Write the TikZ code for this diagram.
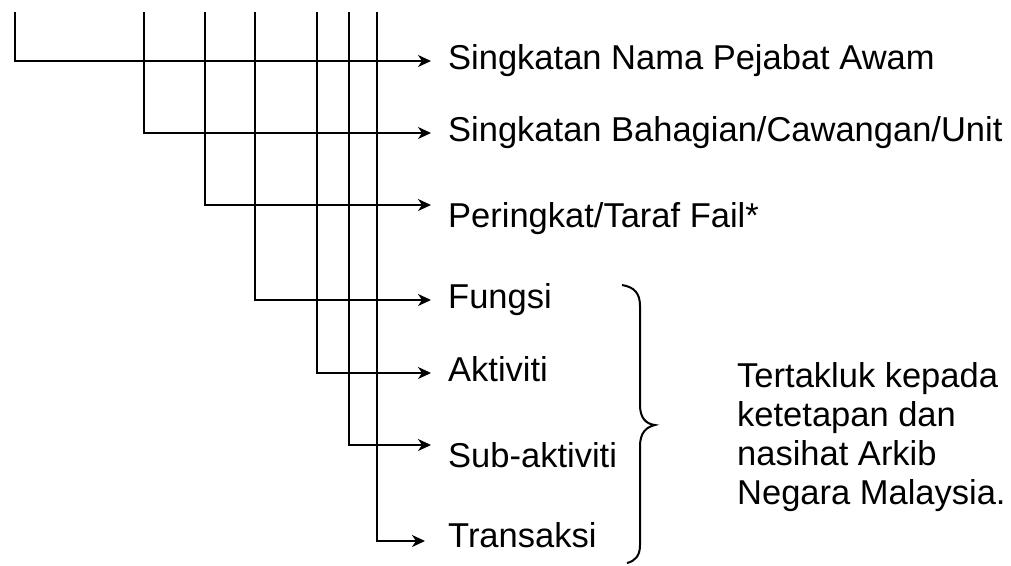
\documentclass[tikz,border=0pt]{standalone}
\usepackage{fontspec}
\setmainfont{Liberation Sans}
\usetikzlibrary{arrows.meta}

\begin{document}
\begin{tikzpicture}[
        x=1pt, y=-1pt,
        >={Stealth[length=13pt, width=12pt, inset=4pt]},
        % Styles
        entry/.style={anchor=base west, inner sep=0pt, font=\fontsize{34.5}{39.5}\selectfont},
        note/.style={anchor=base west, inner sep=0pt, align=left, font=\fontsize{34.5}{39}\selectfont},
        arrow/.style={->, line width=2.2pt, black},
        bracket/.style={line width=2pt, black},
    ]
    \useasboundingbox (0,0) rectangle (1011,565);

    % === LABELS ===
    \node[entry] (pejabat) at (448,69) {Singkatan Nama Pejabat Awam};
    \node[entry] (bahagian) at (448,141) {Singkatan Bahagian/Cawangan/Unit};
    \node[entry] (taraf) at (448,227) {Peringkat/Taraf Fail*};
    \node[entry] (fungsi) at (448,308) {Fungsi};
    \node[entry] (aktiviti) at (448,381) {Aktiviti};
    \node[entry] (subakt) at (448,467) {Sub-aktiviti};
    \node[entry] (transaksi) at (448,547) {Transaksi};

    % === NOTE (placed by its last baseline) ===
    \node[note] (nota) at (737,504) {Tertakluk kepada\\ketetapan dan\\nasihat Arkib\\Negara Malaysia.};

    % === LINE TOPS AND ARROW TIPS ===
    \coordinate (t1) at (15,12);
    \coordinate (t2) at (144,12);
    \coordinate (t3) at (205,12);
    \coordinate (t4) at (255,12);
    \coordinate (t5) at (317,12);
    \coordinate (t6) at (349,12);
    \coordinate (t7) at (377,12);
    \coordinate (e1) at (431,61);
    \coordinate (e2) at (431,133);
    \coordinate (e3) at (431,205);
    \coordinate (e4) at (431,300);
    \coordinate (e5) at (431,373);
    \coordinate (e6) at (431,445);
    \coordinate (e7) at (425,541);

    % === CONNECTIONS ===
    \draw[arrow] (t1) |- (e1);
    \draw[arrow] (t2) |- (e2);
    \draw[arrow] (t3) |- (e3);
    \draw[arrow] (t4) |- (e4);
    \draw[arrow] (t5) |- (e5);
    \draw[arrow] (t6) |- (e6);
    \draw[arrow] (t7) |- (e7);

    % === BRACE ===
    \draw[bracket] (622,285) .. controls (634,287) and (640,293) .. (640,306)
        -- (640,405) .. controls (640,418) and (646,424) .. (655,425)
        .. controls (646,427) and (640,433) .. (640,446)
        -- (640,545) .. controls (640,556) and (635,561) .. (627,563);
\end{tikzpicture}
\end{document}
